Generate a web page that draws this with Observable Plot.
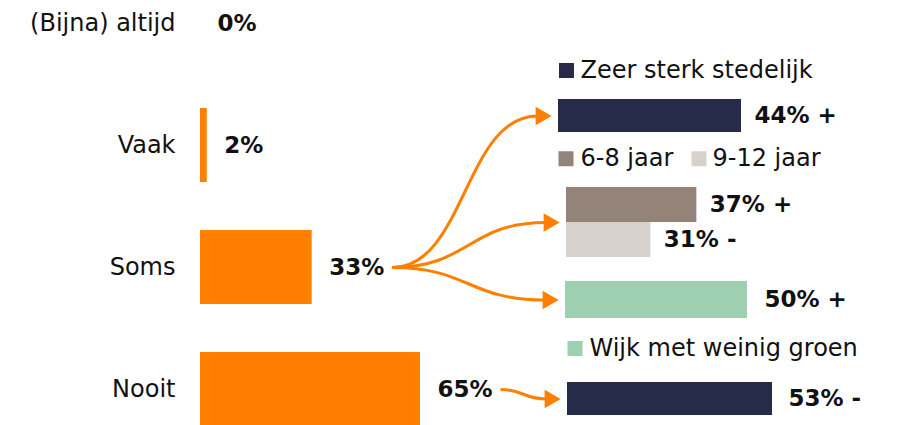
<!DOCTYPE html>
<html><head><meta charset="utf-8">
<script src="https://cdn.jsdelivr.net/npm/d3@7"></script>
<script src="https://cdn.jsdelivr.net/npm/@observablehq/plot@0.6"></script>
<style>
html,body{margin:0;padding:0;background:#fff;}
#chart{position:relative;width:902px;height:425px;overflow:hidden;}
</style></head><body><div id="chart"></div>
<script>
// ---- data ----
const categories = ["(Bijna) altijd", "Vaak", "Soms", "Nooit"];
const shares = [0, 2, 33, 65];

const subLabels = ["Zeer sterk stedelijk", "6-8 jaar", "9-12 jaar", "Wijk met weinig groen", "Zeer sterk stedelijk"];
const subValues = [44, 37, 31, 50, 53];
const subSigns = ["+", "+", "-", "+", "-"];
const subParents = ["Soms", "Soms", "Soms", "Soms", "Nooit"];
const subGroupIds = [0, 1, 1, 2, 3];

// ---- styles / layout ----
const ORANGE = "#FF8000";
const TEXT = "#111111";
const FONT = "'DejaVu Sans', sans-serif";
const BOLD_SIZE = 23;
const colorOf = {
  "Zeer sterk stedelijk": "#252B48",
  "6-8 jaar": "#948379",
  "9-12 jaar": "#D6D1CD",
  "Wijk met weinig groen": "#9ECFB0"
};
const svgStyle = {position: "absolute", left: "0px", top: "0px", background: "transparent",
  overflow: "visible", fontFamily: FONT, fontSize: "24px", color: TEXT};

const groupLayouts = [
  {domain: [0, 100], range: [558, 973.9], rows: [99, 132], labelDx: 13,
   legends: [{label: "Zeer sterk stedelijk", sqDx: 8, textDx: 22, dy: -45.5}]},
  {domain: [20, 60], range: [566, 872.7], rows: [186, 257], labelDx: 13,
   legends: [{label: "6-8 jaar", sqDx: -0.5, textDx: 14, dy: -46.25},
             {label: "9-12 jaar", sqDx: 132.5, textDx: 146, dy: -46.25}]},
  {domain: [0, 100], range: [565, 929], rows: [281, 318], labelDx: 17,
   legends: [{label: "Wijk met weinig groen", sqDx: 9.5, textDx: 24, dy: 48.5}]},
  {domain: [0, 100], range: [567, 953.8], rows: [382, 415], labelDx: 16, legends: []}
];

const chart = document.getElementById("chart");

function scaleFn(s) {
  if (typeof s.apply === "function") return v => s.apply(v);
  if (s.type === "band") {
    const b = d3.scaleBand().domain(s.domain).range(s.range)
      .paddingInner(s.paddingInner ?? 0).paddingOuter(s.paddingOuter ?? 0).align(s.align ?? 0.5);
    return v => b(v);
  }
  const l = d3.scaleLinear().domain(s.domain).range(s.range);
  return v => l(v);
}

// ---- left chart ----
const leftData = categories.map((c, i) => ({category: c, share: shares[i]}));
const left = Plot.plot({
  width: 902, height: 425, margin: 0, marginLeft: 200,
  style: svgStyle,
  x: {domain: [0, 65], range: [200, 420], axis: null},
  y: {domain: categories, range: [-16, 428], paddingInner: 0.39, paddingOuter: 0},
  marks: [
    Plot.barX(leftData, {x: "share", y: "category", fill: ORANGE}),
    Plot.text(leftData, {x: "share", y: "category", text: d => `${d.share}%`, dx: 17,
      textAnchor: "start", fontWeight: "bold", fontSize: BOLD_SIZE, fill: TEXT}),
    Plot.axisY({tickSize: 0, tickPadding: 25, label: null, fontSize: 24, fill: TEXT})
  ]
});
chart.appendChild(left);

// ---- right sub-charts ----
const subData = subLabels.map((l, i) => ({label: l, value: subValues[i], sign: subSigns[i],
  parent: subParents[i], group: subGroupIds[i]}));

const groupPlots = groupLayouts.map((L, gi) => {
  const rows = subData.filter(d => d.group === gi);
  const marks = [
    Plot.barX(rows, {x1: () => L.domain[0], x2: "value", y: "label", fill: d => colorOf[d.label]}),
    Plot.text(rows, {x: "value", y: "label", text: d => `${d.value}% ${d.sign}`, dx: L.labelDx,
      textAnchor: "start", fontWeight: "bold", fontSize: BOLD_SIZE, fill: TEXT})
  ];
  for (const spec of L.legends) {
    const item = [{label: spec.label, x0: L.domain[0], row: rows[0].label}];
    marks.push(Plot.dot(item, {x: "x0", y: "row", dx: spec.sqDx, dy: spec.dy, symbol: "square",
      r: 8.46, fill: colorOf[spec.label], stroke: "none"}));
    marks.push(Plot.text(item, {x: "x0", y: "row", dx: spec.textDx, dy: spec.dy, text: "label",
      textAnchor: "start", fontSize: 24, fill: TEXT}));
  }
  const p = Plot.plot({
    width: 902, height: 425, margin: 0, style: svgStyle,
    x: {domain: L.domain, range: L.range, axis: null},
    y: {domain: rows.map(d => d.label), range: L.rows, padding: 0, axis: null},
    marks
  });
  chart.appendChild(p);
  return p;
});

// ---- arrows (endpoints derived from the charts' scales) ----
const ctx = document.createElement("canvas").getContext("2d");
ctx.font = `bold ${BOLD_SIZE}px 'DejaVu Sans'`;
const lxS = left.scale("x"), lyS = left.scale("y");
const lx = scaleFn(lxS), ly = scaleFn(lyS);
const arrows = groupPlots.map((gp, gi) => {
  const first = subData.find(d => d.group === gi);
  const pv = shares[categories.indexOf(first.parent)];
  const gxS = gp.scale("x"), gyS = gp.scale("y");
  const gx = scaleFn(gxS), gy = scaleFn(gyS);
  const yd = gyS.domain;
  return {
    x1: lx(pv) + 17 + ctx.measureText(`${pv}%`).width + 8,
    y1: ly(first.parent) + lyS.bandwidth / 2,
    tip: gx(gxS.domain[0]) - 7,
    y2: (gy(yd[0]) + gy(yd[yd.length - 1]) + gyS.bandwidth) / 2
  };
});
const arrowPlot = Plot.plot({
  width: 902, height: 425, margin: 0, style: svgStyle,
  x: {type: "identity", axis: null}, y: {type: "identity", axis: null},
  marks: [
    Plot.link(arrows, {x1: "x1", y1: "y1", x2: d => d.tip - 14, y2: "y2", curve: "bump-x",
      stroke: ORANGE, strokeWidth: 3}),
    Plot.dot(arrows, {x: d => d.tip - 10.5, y: "y2", symbol: "triangle", r: 6.9, fill: ORANGE,
      stroke: "none", rotate: 90})
  ]
});
chart.appendChild(arrowPlot);
</script>
</body></html>
